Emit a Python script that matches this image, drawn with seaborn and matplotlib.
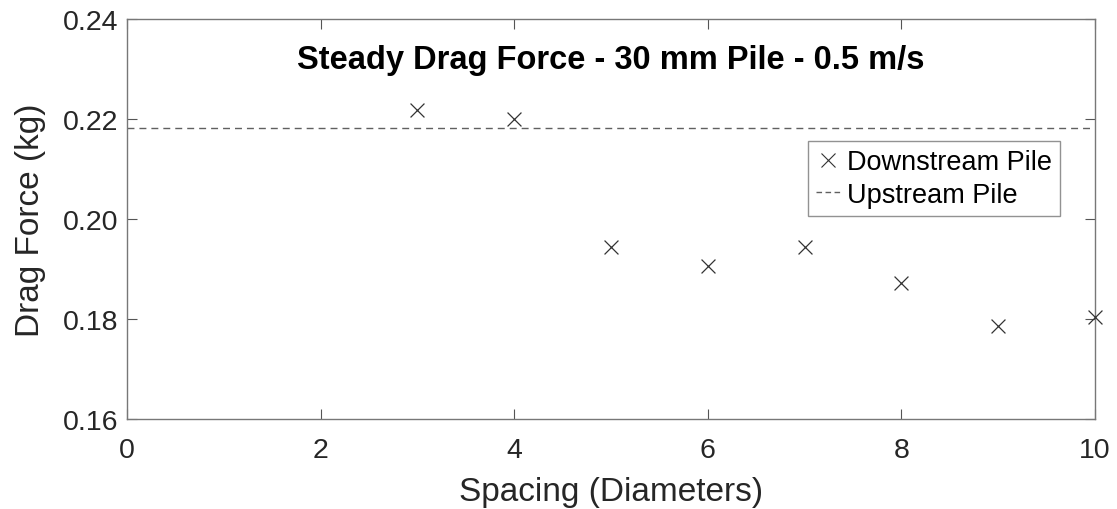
import numpy as np
import pandas as pd
import matplotlib
matplotlib.use("Agg")
import matplotlib.pyplot as plt
import seaborn as sns
from matplotlib.lines import Line2D

# --- data ---
spacing = [3, 4, 5, 6, 7, 8, 9, 10]
downstream_force = [0.2218, 0.2200, 0.1944, 0.1906, 0.1944, 0.1872, 0.1786, 0.1805]
upstream_force = 0.2182

x_ticks = [0, 2, 4, 6, 8, 10]
y_ticks = [0.16, 0.18, 0.20, 0.22, 0.24]
y_tick_labels = ["0.16", "0.18", "0.20", "0.22", "0.24"]
legend_labels = ["Downstream Pile", "Upstream Pile"]

sns.set_theme(style="white")
plt.rcParams['font.family'] = ['Liberation Sans', 'DejaVu Sans']

df = pd.DataFrame({"Spacing": spacing, "Force": downstream_force})

fig = plt.figure(figsize=(11.17, 5.10), dpi=100)
ax = fig.add_axes([127 / 1117, 1 - 420 / 510, (1095 - 127) / 1117, 400 / 510])

# downstream pile points + upstream reference line
sns.scatterplot(data=df, x="Spacing", y="Force", marker="x", s=100,
                color="#333333", linewidth=0.9, ax=ax, legend=False,
                zorder=3, clip_on=False)
ax.axhline(upstream_force, color="#606060", linestyle=(0, (5, 3.6)), linewidth=1.0)

ax.set_xlim(0, 10)
ax.set_ylim(0.16, 0.24)
ax.set_xticks(x_ticks)
ax.set_yticks(y_ticks)
ax.set_yticklabels(y_tick_labels)
ax.tick_params(direction="in", length=7, width=0.8, colors="#555555",
               labelcolor="#262626", labelsize=20.5, top=True, right=True,
               bottom=True, left=True)
ax.tick_params(axis="x", pad=13)
ax.tick_params(axis="y", pad=6)
for sp in ax.spines.values():
    sp.set_color("#777777")
    sp.set_linewidth(1.0)

ax.set_xlabel("Spacing (Diameters)", fontsize=24, color="#262626", labelpad=9)
ax.set_ylabel("Drag Force (kg)", fontsize=24, color="#262626", labelpad=12)
ax.text(0.5, 0.9, "Steady Drag Force - 30 mm Pile - 0.5 m/s", transform=ax.transAxes,
        ha="center", va="center", fontsize=23.5, fontweight="bold", color="black")

# legend (MATLAB style square box)
handles = [
    Line2D([], [], marker="x", linestyle="none", color="#333333", markersize=10,
           markeredgewidth=0.8),
    Line2D([], [], color="#606060", linestyle=(0, (4, 2.5)), linewidth=1.0),
]
leg = ax.legend(handles, legend_labels, loc="upper right",
                bbox_to_anchor=(0.964, 0.695), fontsize=19.5, frameon=True,
                fancybox=False, edgecolor="#777777", handlelength=0.9,
                handletextpad=0.25, borderpad=0.3, labelspacing=0.25,
                borderaxespad=0)
leg.get_frame().set_linewidth(1.0)
for t in leg.get_texts():
    t.set_color("black")

fig.savefig("out.png", dpi=100)
